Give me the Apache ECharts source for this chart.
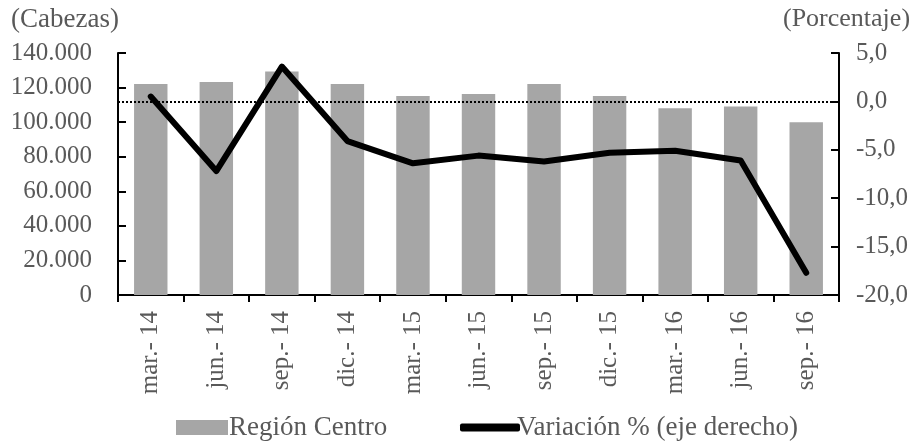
<!DOCTYPE html>
<html>
<head>
<meta charset="utf-8">
<script src="https://cdn.jsdelivr.net/npm/echarts@6/dist/echarts.min.js"></script>
<style>
  html, body { margin: 0; padding: 0; background: #fff; }
  #chart { width: 922px; height: 443px; }
</style>
</head>
<body>
<div id="chart"></div>
<script>
const categories = ['mar.- 14', 'jun.- 14', 'sep.- 14', 'dic.- 14', 'mar.- 15', 'jun.- 15', 'sep.- 15', 'dic.- 15', 'mar.- 16', 'jun.- 16', 'sep.- 16']
const cabezas = [122000, 123200, 129300, 122000, 115100, 116300, 122000, 115100, 108100, 109100, 100000]
const variacion = [0.5, -7.2, 3.6, -4.1, -6.4, -5.6, -6.2, -5.3, -5.1, -6.1, -17.7]

const font = 'Liberation Serif, Times New Roman, serif'
const grey = '#595959'

const chart = echarts.init(document.getElementById('chart'))

chart.setOption({
  animation: false,
  textStyle: { fontFamily: font },
  grid: { left: 118, right: 83, top: 53, bottom: 148 },
  graphic: [
    { type: 'text', left: 11, top: 6, style: { text: '(Cabezas)', font: '27px ' + font, fill: grey } },
    { type: 'text', left: 783, top: 6, style: { text: '(Porcentaje)', font: '26px ' + font, fill: grey } }
  ],
  legend: [
    {
      data: [{ name: 'Región Centro', icon: 'rect' }],
      left: 171,
      top: 409,
      itemWidth: 52,
      itemHeight: 15,
      itemGap: 6,
      textStyle: { color: grey, fontSize: 27, fontFamily: font, padding: [0, 0, 0, -4] }
    },
    {
      data: [{ name: 'Variación % (eje derecho)', icon: 'roundRect' }],
      left: 455,
      top: 409,
      itemWidth: 60,
      itemHeight: 8,
      textStyle: { color: grey, fontSize: 27, fontFamily: font, padding: [0, 0, 0, -8] }
    }
  ],
  xAxis: {
    type: 'category',
    data: categories,
    axisLine: { lineStyle: { color: '#000', width: 2 } },
    axisTick: { show: true, length: 7, lineStyle: { color: '#000', width: 2 } },
    axisLabel: { rotate: 90, color: grey, fontSize: 25, fontFamily: font, margin: 16 }
  },
  yAxis: [
    {
      type: 'value',
      min: 0,
      max: 140000,
      interval: 20000,
      axisLine: { show: true, lineStyle: { color: '#000', width: 2 } },
      axisTick: { show: true, inside: true, length: 8, lineStyle: { color: '#000', width: 2 } },
      splitLine: { show: false },
      axisLabel: {
        color: grey, fontSize: 25, fontFamily: font, margin: 26,
        formatter: (v) => String(v).replace(/\B(?=(\d{3})+(?!\d))/g, '.')
      }
    },
    {
      type: 'value',
      min: -20,
      max: 5,
      interval: 5,
      position: 'right',
      axisLine: { show: true, lineStyle: { color: '#000', width: 2 } },
      axisTick: { show: true, inside: true, length: 8, lineStyle: { color: '#000', width: 2 } },
      splitLine: { show: false },
      axisLabel: {
        color: grey, fontSize: 25, fontFamily: font, margin: 17,
        formatter: (v) => v.toFixed(1).replace('.', ',')
      }
    }
  ],
  series: [
    {
      name: 'Región Centro',
      type: 'bar',
      data: cabezas,
      barCategoryGap: '49%',
      itemStyle: { color: '#a6a6a6' }
    },
    {
      name: 'Variación % (eje derecho)',
      type: 'line',
      yAxisIndex: 1,
      data: variacion,
      symbol: 'none',
      itemStyle: { color: '#000' },
      lineStyle: { color: '#000', width: 6, cap: 'round', join: 'round' },
      markLine: {
        silent: true,
        symbol: 'none',
        label: { show: false },
        lineStyle: { color: '#000', type: 'dotted', width: 2 },
        data: [{ yAxis: 0 }]
      },
      z: 3
    }
  ]
})
</script>
</body>
</html>
